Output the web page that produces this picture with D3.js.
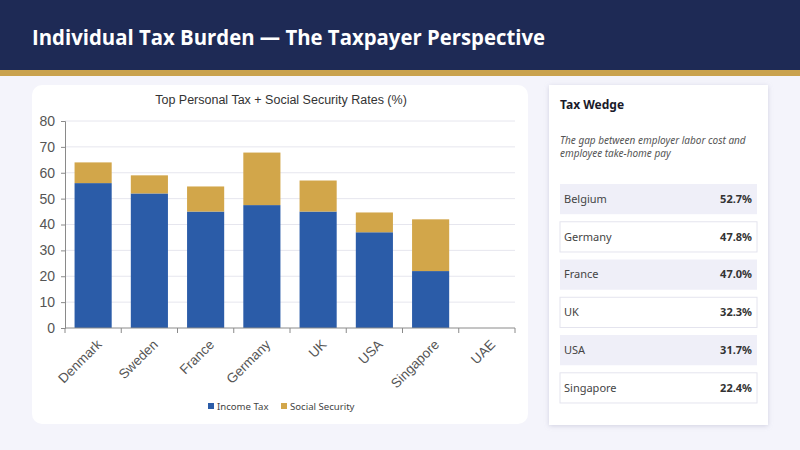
<!DOCTYPE html>
<html>
<head>
<meta charset="utf-8">
<script src="https://cdn.jsdelivr.net/npm/d3@7"></script>
<style>
  html, body { margin: 0; padding: 0; background: #f4f4fb; }
  svg { display: block; }
</style>
</head>
<body>
<div id="slide"></div>
<script>
'use strict'

// data
const countries = ['Denmark', 'Sweden', 'France', 'Germany', 'UK', 'USA', 'Singapore', 'UAE']
const incomeTax = [56, 52, 45, 47.5, 45, 37, 22, 0]
const socialSecurity = [8, 7, 9.7, 20.3, 12, 7.65, 20, 0]
const yTicks = [0, 10, 20, 30, 40, 50, 60, 70, 80]
const seriesNames = ['Income Tax', 'Social Security']

const wedgeCountries = ['Belgium', 'Germany', 'France', 'UK', 'USA', 'Singapore']
const wedgeValues = [52.7, 47.8, 47.0, 32.3, 31.7, 22.4]

const W = 800, H = 450
const navy = '#1e2a55', gold = '#c9a24e'
const colBlue = '#2b5ca8', colGold = '#d2a64a'

const svg = d3.select('#slide').append('svg')
    .attr('width', W).attr('height', H)
    .attr('viewBox', `0 0 ${W} ${H}`)

const defs = svg.append('defs')
const shadow = defs.append('filter').attr('id', 'shadow')
    .attr('x', '-10%').attr('y', '-10%').attr('width', '120%').attr('height', '120%')
shadow.append('feDropShadow')
    .attr('dx', 0).attr('dy', 1).attr('stdDeviation', 2.5)
    .attr('flood-color', '#9090b0').attr('flood-opacity', 0.35)

svg.append('rect').attr('width', W).attr('height', H).attr('fill', '#f4f4fb')

////////////////////////////////////
////////////// header //////////////
////////////////////////////////////
svg.append('rect').attr('width', W).attr('height', 70).attr('fill', navy)
svg.append('rect').attr('y', 70).attr('width', W).attr('height', 6).attr('fill', gold)
svg.append('text')
    .attr('x', 32).attr('y', 45)
    .attr('textLength', 513).attr('lengthAdjust', 'spacingAndGlyphs')
    .style('font-family', '"Open Sans", "Noto Sans", sans-serif')
    .style('font-weight', 700).style('font-size', '22px')
    .attr('fill', '#ffffff')
    .text('Individual Tax Burden — The Taxpayer Perspective')

////////////////////////////////////
//////////// chart card ////////////
////////////////////////////////////
svg.append('rect')
    .attr('x', 32).attr('y', 85).attr('width', 496).attr('height', 339)
    .attr('rx', 10).attr('fill', '#ffffff')

svg.append('text')
    .attr('x', 281).attr('y', 104)
    .attr('text-anchor', 'middle')
    .style('font-family', '"Liberation Sans", Arial, sans-serif')
    .style('font-size', '12.5px').attr('fill', '#333')
    .text('Top Personal Tax + Social Security Rates (%)')

const plot = { left: 65, right: 515, top: 121, bottom: 328 }

const x = d3.scaleBand()
    .domain(countries)
    .range([plot.left, plot.right])
    .paddingInner(0.34).paddingOuter(0.17)

const y = d3.scaleLinear()
    .domain([0, 80])
    .range([plot.bottom, plot.top])

// grid
svg.append('g')
    .selectAll('line')
    .data(yTicks.filter(d => d > 0))
    .join('line')
    .attr('x1', plot.left).attr('x2', plot.right)
    .attr('y1', d => y(d)).attr('y2', d => y(d))
    .attr('stroke', '#e6e6ee').attr('stroke-width', 1)

// stacked bars
const rows = countries.map((c, i) => ({ country: c, 'Income Tax': incomeTax[i], 'Social Security': socialSecurity[i] }))
const stacked = d3.stack().keys(seriesNames)(rows)
const colour = d3.scaleOrdinal().domain(seriesNames).range([colBlue, colGold])

svg.append('g')
    .selectAll('g')
    .data(stacked)
    .join('g')
    .attr('fill', d => colour(d.key))
    .selectAll('rect')
    .data(d => d)
    .join('rect')
    .attr('x', d => x(d.data.country))
    .attr('width', x.bandwidth())
    .attr('y', d => y(d[1]))
    .attr('height', d => y(d[0]) - y(d[1]))

// y axis
const yAxis = svg.append('g')
    .attr('transform', `translate(${plot.left},0)`)
    .call(d3.axisLeft(y).tickValues(yTicks).tickSize(4).tickPadding(6))
yAxis.select('.domain').attr('stroke', '#8a8a8a')
yAxis.selectAll('.tick line').attr('stroke', '#8a8a8a')
yAxis.selectAll('.tick text')
    .style('font-family', '"Liberation Sans", Arial, sans-serif')
    .style('font-size', '14px').attr('fill', '#555')

// x axis, ticks on category boundaries
const xAxis = svg.append('g')
    .attr('transform', `translate(0,${plot.bottom})`)
xAxis.append('line')
    .attr('x1', plot.left).attr('x2', plot.right)
    .attr('stroke', '#8a8a8a')
const step = x.step()
const bounds = d3.range(countries.length + 1).map(i => plot.left + i * step)
xAxis.selectAll('.bnd')
    .data(bounds)
    .join('line')
    .attr('class', 'bnd')
    .attr('x1', d => d).attr('x2', d => d)
    .attr('y1', 0).attr('y2', 5)
    .attr('stroke', '#8a8a8a')
xAxis.selectAll('.lab')
    .data(countries)
    .join('text')
    .attr('class', 'lab')
    .attr('transform', d => `translate(${x(d) + x.bandwidth() / 2 + 6},${14}) rotate(-45)`)
    .attr('text-anchor', 'end')
    .attr('dy', '0.35em')
    .style('font-family', '"Liberation Sans", Arial, sans-serif')
    .style('font-size', '13.5px').attr('fill', '#555')
    .text(d => d)

// legend
const legend = svg.append('g').attr('transform', 'translate(208,407)')
const legX = [0, 73]
seriesNames.forEach((s, i) => {
    const g = legend.append('g').attr('transform', `translate(${legX[i]},0)`)
    g.append('rect').attr('x', 0).attr('y', -4).attr('width', 6).attr('height', 6).attr('fill', colour(s))
    g.append('text').attr('x', 9).attr('y', 0).attr('dy', '0.32em')
        .style('font-family', '"Noto Sans", sans-serif')
        .style('font-size', '9.6px').attr('fill', '#444')
        .text(s)
})

////////////////////////////////////
//////////// side panel ////////////
////////////////////////////////////
svg.append('rect')
    .attr('x', 549).attr('y', 85).attr('width', 219).attr('height', 340)
    .attr('fill', '#ffffff').attr('filter', 'url(#shadow)')

svg.append('text')
    .attr('x', 560).attr('y', 109)
    .style('font-family', '"Noto Sans", sans-serif')
    .style('font-weight', 700).style('font-size', '12px')
    .attr('fill', '#1a1a2a')
    .text('Tax Wedge')

const sub = svg.append('text')
    .style('font-family', '"Noto Sans", sans-serif')
    .style('font-style', 'italic').style('font-size', '10px')
    .attr('fill', '#555')
sub.append('tspan').attr('x', 560).attr('y', 144).text('The gap between employer labor cost and')
sub.append('tspan').attr('x', 560).attr('y', 157).text('employee take-home pay')

const rowY = d3.scaleBand()
    .domain(wedgeCountries)
    .range([184, 403])
    .paddingInner(0.2)

const wrow = svg.append('g')
    .selectAll('g')
    .data(wedgeCountries)
    .join('g')
    .attr('transform', d => `translate(560,${rowY(d)})`)

wrow.append('rect')
    .attr('width', 197).attr('height', rowY.bandwidth())
    .attr('fill', (d, i) => i % 2 === 0 ? '#efeff8' : '#ffffff')
    .attr('stroke', (d, i) => i % 2 === 0 ? 'none' : '#e4e4ee')

wrow.append('text')
    .attr('x', 4).attr('y', rowY.bandwidth() / 2).attr('dy', '0.35em')
    .style('font-family', '"Noto Sans", sans-serif')
    .style('font-size', '11px').attr('fill', '#444')
    .text(d => d)

wrow.append('text')
    .attr('x', 192).attr('y', rowY.bandwidth() / 2).attr('dy', '0.35em')
    .attr('text-anchor', 'end')
    .style('font-family', '"Noto Sans", sans-serif')
    .style('font-weight', 700).style('font-size', '11px').attr('fill', '#333')
    .text((d, i) => d3.format('.1f')(wedgeValues[i]) + '%')
</script>
</body>
</html>
